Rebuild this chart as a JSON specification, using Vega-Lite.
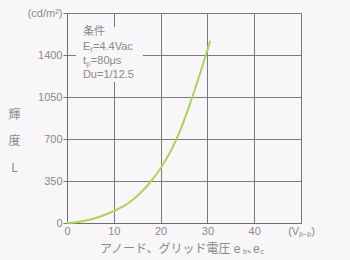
{
  "$schema": "https://vega.github.io/schema/vega-lite/v6.json",
  "autosize": {"type": "none"},
  "width": 234,
  "height": 210,
  "padding": {"left": 67, "top": 13, "right": 49, "bottom": 37},
  "background": "#f8f6f8",
  "config": {
    "view": {"stroke": null},
    "axis": {
      "labelFont": "Liberation Sans",
      "labelFontSize": 11,
      "labelColor": "#8a8a8a",
      "gridColor": "#7a7a7a",
      "gridOpacity": 1,
      "gridWidth": 1,
      "domainColor": "#6e6e6e",
      "tickColor": "#7a7a7a"
    }
  },
  "datasets": {
    "curve": [
      {"V": 0, "L": 0}, {"V": 2, "L": 6}, {"V": 4, "L": 20}, {"V": 6, "L": 40},
      {"V": 8, "L": 67}, {"V": 10, "L": 100}, {"V": 12, "L": 138}, {"V": 14, "L": 192},
      {"V": 16, "L": 262}, {"V": 18, "L": 350}, {"V": 20, "L": 456}, {"V": 22, "L": 588},
      {"V": 24, "L": 754}, {"V": 26, "L": 962}, {"V": 28, "L": 1194}, {"V": 30, "L": 1442},
      {"V": 30.6, "L": 1519}
    ],
    "box": [{"x0": 1.9, "x1": 16.2, "y0": 1175, "y1": 1633}],
    "note": [
      {"x": 3.4, "y": 1592, "t": "条件"},
      {"x": 3.4, "y": 1467, "t": "E"},
      {"x": 5.56, "y": 1467, "t": "=4.4Vac"},
      {"x": 3.4, "y": 1350, "t": "t"},
      {"x": 5.1, "y": 1350, "t": "=80μs"},
      {"x": 3.4, "y": 1233, "t": "Du=1/12.5"}
    ],
    "noteSub": [
      {"x": 5.0, "y": 1442, "t": "f"},
      {"x": 4.1, "y": 1325, "t": "p"}
    ],
    "xtitle": [
      {"x": 7.05, "y": -217, "t": "アノード、グリッド電圧 e"},
      {"x": 38.45, "y": -217, "t": "､e"}
    ],
    "xtitleSub": [
      {"x": 37.6, "y": -242, "t": "b"},
      {"x": 41.3, "y": -242, "t": "c"}
    ]
  },
  "layer": [
    {
      "data": {"name": "curve"},
      "mark": {"type": "line", "color": "#acd455", "strokeWidth": 2, "interpolate": "monotone"},
      "encoding": {
        "x": {
          "field": "V", "type": "quantitative",
          "scale": {"domain": [0, 50], "nice": false},
          "axis": {
            "values": [0, 10, 20, 30, 40, 50],
            "labelExpr": "datum.value == 50 ? '(Vₚ₋ₚ)' : datum.label",
            "ticks": false,
            "labelPadding": 2,
            "title": null,
            "labelFlush": false
          }
        },
        "y": {
          "field": "L", "type": "quantitative",
          "scale": {"domain": [0, 1750], "nice": false},
          "axis": {
            "values": [0, 350, 700, 1050, 1400, 1750],
            "format": "d",
            "labelExpr": "datum.value == 1750 ? '(cd/m²)' : datum.label",
            "tickSize": 4,
            "labelPadding": 1,
            "labelFlush": false,
            "title": ["輝", "度", "L"],
            "titleAngle": 0,
            "titleX": -53,
            "titleY": 101,
            "titleAlign": "center",
            "titleBaseline": "middle",
            "titleLineHeight": 26.5,
            "titleFont": "Noto Sans CJK JP",
            "titleFontSize": 12,
            "titleFontWeight": "normal",
            "titleColor": "#8a8a8a"
          }
        }
      }
    },
    {
      "data": {"name": "box"},
      "mark": {"type": "rect", "color": "#f8f6f8"},
      "encoding": {
        "x": {"field": "x0", "type": "quantitative"},
        "x2": {"field": "x1"},
        "y": {"field": "y0", "type": "quantitative"},
        "y2": {"field": "y1"}
      }
    },
    {
      "data": {"name": "note"},
      "mark": {"type": "text", "align": "left", "baseline": "middle", "font": "Liberation Sans, 'Noto Sans CJK JP'", "fontSize": 11, "color": "#8a8a8a"},
      "encoding": {
        "x": {"field": "x", "type": "quantitative"},
        "y": {"field": "y", "type": "quantitative"},
        "text": {"field": "t"}
      }
    },
    {
      "data": {"name": "noteSub"},
      "mark": {"type": "text", "align": "left", "baseline": "middle", "font": "Liberation Sans", "fontSize": 7, "color": "#8a8a8a"},
      "encoding": {
        "x": {"field": "x", "type": "quantitative"},
        "y": {"field": "y", "type": "quantitative"},
        "text": {"field": "t"}
      }
    },
    {
      "data": {"name": "xtitle"},
      "mark": {"type": "text", "align": "left", "baseline": "middle", "font": "Liberation Sans, 'Noto Sans CJK JP'", "fontSize": 12, "color": "#8a8a8a"},
      "encoding": {
        "x": {"field": "x", "type": "quantitative"},
        "y": {"field": "y", "type": "quantitative"},
        "text": {"field": "t"}
      }
    },
    {
      "data": {"name": "xtitleSub"},
      "mark": {"type": "text", "align": "left", "baseline": "middle", "font": "Liberation Sans", "fontSize": 7, "color": "#8a8a8a"},
      "encoding": {
        "x": {"field": "x", "type": "quantitative"},
        "y": {"field": "y", "type": "quantitative"},
        "text": {"field": "t"}
      }
    }
  ]
}
